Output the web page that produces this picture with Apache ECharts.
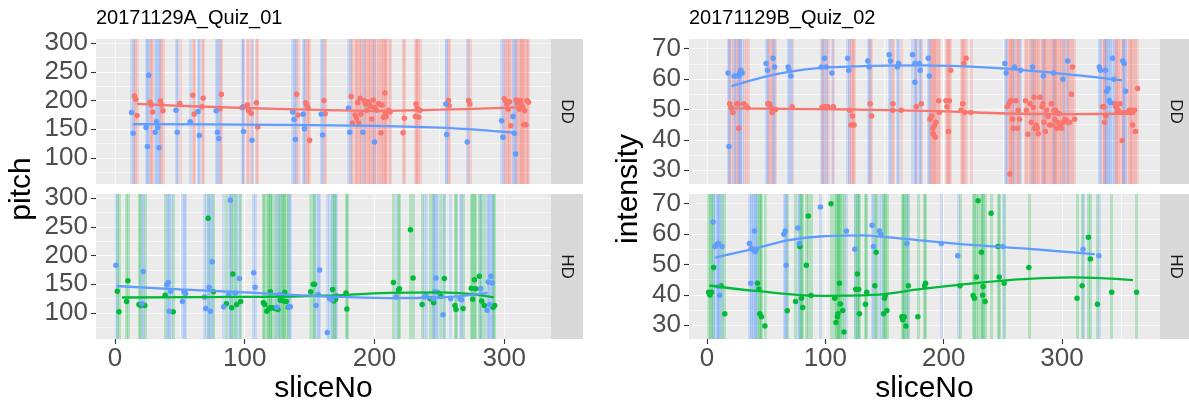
<!DOCTYPE html>
<html>
<head>
<meta charset="utf-8">
<script src="https://cdn.jsdelivr.net/npm/echarts@6/dist/echarts.min.js"></script>
<style>
html,body{margin:0;padding:0;background:#fff;}
#chart{width:1189px;height:407px;}
</style>
</head>
<body>
<div id="chart"></div>
<script>
// ---------- tick labels ----------
const pitchTicks = [100, 150, 200, 250, 300];
const intensityTicks = [30, 40, 50, 60, 70];
const sliceTicks = [0, 100, 200, 300];

// ---------- Quiz 01 (pitch), facet DD ----------
const q1DD_red_slice = [15,16,17,27,28,29,35,36,37,50,60,61,68,67,82,81,99,102,103,105,109,110,140,141,147,148,149,150,161,162,182,183,185,186,187,188,189,189.5,192,193,194,195,196,197,198,199,200,201.5,203,204,205,206,207,208,208.5,209,211,212,222,223,231.5,232,233,234,235,257,257.5,272.5,273.5,300,301,302,303,304,305,309,310,311.5,312.5,313,314,315,315.6,316.7,317.4,318.7];
const q1DD_red_pitch = [208,202,174,197,192,180,199,192,182,195,209,176,204,189,211,186,189,192,182,178,196,154,211,175,196,191,186,131,200,177,207,161,175,169,196,161,204,176,200,194,183,198,192,190,168,201,188,183,195,193,144,192,171,213,178,172,183,180,144,169,172,194,186,171,183,200,191,200,194,203,199,194,185,198,156,201,195,185,200,194,189,158,182,158,200,197];
const q1DD_blue_slice = [12.8,14,24,25,26,31,32,33,34,47,48,58,64,65,78,79,80,98,99,105.6,137,138,139,145,146,159,160,180,181,191,200,255,255.6,271.5,298,299,306.7,307.7,308.7];
const q1DD_blue_pitch = [179,143,153,120,244,145,163,153,118,183,145,163,181,139,182,145,134,188,146,131,180,167,132,176,151,176,140,187,145,145,128,194,141,128,165,136,172,143,107];
const q1DD_red_smooth_slice = [17,60,100,150,200,250,311];
const q1DD_red_smooth_pitch = [194,190,187,184,182,184,188];
const q1DD_blue_smooth_slice = [14,100,200,250,280,308];
const q1DD_blue_smooth_pitch = [159,158,156,153,149,144];

// ---------- Quiz 01 (pitch), facet HD ----------
const q1HD_green_slice = [1.8,3.1,9,10,18.5,19.7,23,38.7,44.9,71.8,75.9,85.9,90,90.8,93.8,96.9,114.4,115.4,117,118.5,119.7,121.5,123.3,125.6,119.7,127.4,128.7,130,130.8,132,133.6,150.8,152.8,153.8,167.7,168.7,170,178,178.7,214.6,218.5,219.2,227.7,229.7,236.7,242.8,245.6,251,253.8,262,262.8,268.2,274.6,275.6,277,278,280.8,282.6,284.6,291.3,292.6];
const q1HD_green_pitch = [138,102,120,156,115,113,113,131,102,265,137,116,109,168,115,120,118,115,103,107,109,109,108,106,137,122,131,121,136,120,110,137,150,150,141,121,124,135,107,153,140,142,245,161,115,125,118,129,160,113,106,108,143,124,158,142,164,121,113,110,113];
const q1HD_blue_slice = [0.8,21.8,20.8,40,41,43,41.8,52,53.3,54.4,69,70,72.6,73.6,74.9,83.8,87.7,89,92.8,95.9,106.9,108,124.6,126.7,134.1,135.1,154.9,156.7,157.7,163.6,165.4,167.2,170.8,216.7,238.5,239.7,245.4,246.4,247.4,248.7,252.8,258.7,265.9,267.2,281.8,286.7,287.7,288.7,289.7,290.8];
const q1HD_blue_pitch = [183,172,116,149,153,138,103,120,137,134,128,108,145,103,189,111,132,296,135,160,170,145,110,132,111,111,113,132,175,66,125,123,130,128,128,131,125,137,161,136,97,125,125,123,142,105,154,115,164,152];
const q1HD_green_smooth_slice = [5.4,100,160,211,250,275,292];
const q1HD_green_smooth_pitch = [127,128,130,135,136,133,127];
const q1HD_blue_smooth_slice = [1.3,50,100,160,211,250,287];
const q1HD_blue_smooth_pitch = [147,141,136,129,126,127,135];

// ---------- Quiz 02 (intensity), facet DD ----------
const q2DD_red_slice = [19.2,20.3,21.8,25.1,26.3,26.8,31.1,33,34.5,51.4,52.8,54,55.1,57.9,72,97.2,98.6,100.6,102.3,106.8,120.6,122.9,121.5,123.2,124.3,137.9,139,157.1,156.8,164.1,176.8,181.1,188.4,189.8,190.7,192.1,193.5,191,192.9,195.8,196.3,202,204.8,202.8,204,205.9,216.1,214.7,217.8,216.9,218.9,222.9,253.7,255.1,256.2,257.6,258.2,261,258.8,262.4,263,264.1,255.9,269.2,269.8,271.2,272.9,274,275.7,276.3,276.8,278.2,279.1,279.9,281.6,283.1,283.9,284.7,285.9,287,288.1,289.5,291,291.8,293.2,293.8,294.6,295.5,296.3,297.5,298.6,299.7,301.1,302.3,303.7,305.1,306.5,307.9,308.8,310.7,334.2,335.6,335.9,337,344.6,345.5,346.6,347.5,348.9,350.8,351.7,355.1,356.8,357.9,358.8,359.6,361.3,362.1,363.8];
const q2DD_red_intensity = [51.9,50.7,49.0,51.9,51.9,43.8,51.9,51.2,50.6,51.9,51.9,50.7,49.0,50.0,50.9,50.7,50.9,50.9,50.9,50.9,49.8,47.9,44.9,44.9,44.9,51.9,47.9,51.9,49.8,49.8,50.9,51.9,46.8,47.9,43.8,44.7,45.8,42.0,40.9,52.9,49.0,52.9,52.9,50.9,42.8,62.9,51.9,49.8,49.0,65.1,66.9,49.0,50.9,51.9,52.8,52.9,46.8,52.9,43.8,43.8,49.8,46.8,28.8,52.9,49.8,41.9,51.9,45.8,50.7,54.0,43.8,44.9,43.8,42.0,54.0,50.9,51.9,45.8,42.8,49.8,47.6,44.9,51.9,44.9,49.8,46.8,49.8,43.8,45.8,48.7,44.9,43.8,45.8,46.8,46.3,45.8,45.8,55.0,64.0,46.8,50.9,50.9,45.8,47.9,51.9,50.9,49.8,49.8,51.9,39.8,49.0,49.0,49.8,49.0,49.8,44.9,49.8,42.8,56.9];
const q2DD_blue_slice = [17.8,18.6,22.9,24.3,27.1,27.7,28.5,29.7,50,51.1,55.9,57.1,68.6,69.5,70.9,96.6,99.2,100.8,105.6,118.9,119.8,135.9,137,154,155.1,160.7,161.9,173.7,175.7,175.7,179.4,180.2,187,187.9,251.7,252.8,259.9,265,275.1,284.2,292.9,300.8,304.8,331.6,332.5,336.7,337.6,339,339.8,341,342.7,343.8,351.4,352.5,353.7];
const q2DD_blue_intensity = [62.0,37.8,61.0,61.0,61.0,62.0,62.9,62.0,65.1,62.9,66.9,64.0,64.0,62.9,61.0,64.0,66.9,64.0,62.0,66.9,62.9,66.0,64.0,68.0,66.0,64.0,65.1,68.0,59.0,65.1,65.1,62.9,66.9,61.0,65.1,62.0,64.0,62.9,64.0,61.0,62.0,60.0,66.0,64.0,62.9,62.9,56.0,56.9,53.0,52.2,66.9,60.0,66.0,65.1,56.0];
const q2DD_red_smooth_slice = [18.4,125.7,196,252.8,309,361.6];
const q2DD_red_smooth_intensity = [50.4,50.0,49.5,48.7,48.5,48.7];
const q2DD_blue_smooth_slice = [20.6,69,125.7,182,238.7,295,350.8];
const q2DD_blue_smooth_intensity = [57.7,62.4,64.2,64.5,63.8,62.0,59.6];

// ---------- Quiz 02 (intensity), facet HD ----------
const q2HD_green_slice = [1.4,2.5,3.7,5.6,11.9,15,42.7,43.8,44.6,46,48.9,67.8,74.9,78.5,79.9,80.8,83.9,85.6,87.9,104.8,107.9,109,110.2,110.7,111.9,112.7,114.7,115.8,125.7,127.1,128.2,128.8,133.9,135,141.8,142.9,150,150.6,149.2,152,164.7,165.5,166.7,168.1,170.1,178.2,183.9,184.7,213.8,224.9,226,227.7,229.1,231.9,233.3,233,235,240.1,245.8,246.9,251.1,272,312.7,317,322.3,324,329.9,342,363];
const q2HD_green_intensity = [40.9,40.0,40.9,49.0,43.0,33.8,43.8,41.9,33.8,32.8,29.8,34.8,37.8,55.9,38.9,35.9,49.8,66.0,39.8,70.0,38.9,30.9,32.8,33.8,43.8,37.0,34.9,27.8,41.9,46.9,41.9,33.8,36.9,40.9,43.0,54.0,38.9,39.8,33.8,34.9,32.8,31.8,32.8,29.8,43.0,32.8,43.0,43.8,43.0,39.8,38.9,45.9,71.0,54.0,42.8,39.9,37.8,66.9,55.9,45.9,43.8,49.0,38.9,43.0,59.0,51.8,36.9,40.9,40.9];
const q2HD_blue_slice = [5.1,6.8,8.5,9.9,12.7,9.6,10.7,35.9,37,37.6,39,40.1,40.7,41.8,65,66.1,66.9,76.8,78,95.8,117.8,124.9,139.5,140.7,145.8,146.9,168.9,198,211.9,250,317.8,331.1];
const q2HD_blue_intensity = [64.0,55.9,56.6,56.9,55.9,42.8,39.9,56.9,43.8,55.3,55.0,61.0,54.2,55.0,60.0,61.0,49.8,62.0,56.9,68.9,61.0,55.0,62.9,55.9,61.0,60.0,56.9,56.9,52.9,55.9,55.0,52.9];
const q2HD_green_smooth_slice = [2,41,97.5,140,182,224.6,267,309,360];
const q2HD_green_smooth_intensity = [43.1,41.3,39.7,40.0,42.0,43.8,45.2,45.8,44.9];
const q2HD_blue_smooth_slice = [7,41,69,97.5,132,154,210,267,327.7];
const q2HD_blue_smooth_intensity = [52.3,55.3,58.0,59.3,59.6,58.9,56.9,55.3,53.4];

// ---------- build chart ----------
const RED = '#F8766D', GREEN = '#00BA38', BLUE = '#619CFF';
const FONT = "'Liberation Sans', Arial, Helvetica, sans-serif";
const zip = (a, b) => a.map((v, i) => [v, b[i]]);

const panels = [
  { rect: [96, 39, 455, 145], xr: [-14.6, 336], yr: [54.8, 307], xMaj: 100, xMin: 50, yMaj: 50, yMin: 25,
    yTicks: pitchTicks, bottom: false,
    groups: [
      { c: RED, x: q1DD_red_slice, y: q1DD_red_pitch, sx: q1DD_red_smooth_slice, sy: q1DD_red_smooth_pitch },
      { c: BLUE, x: q1DD_blue_slice, y: q1DD_blue_pitch, sx: q1DD_blue_smooth_slice, sy: q1DD_blue_smooth_pitch }
    ] },
  { rect: [96, 194, 455, 145], xr: [-14.6, 336], yr: [54.8, 307], xMaj: 100, xMin: 50, yMaj: 50, yMin: 25,
    yTicks: pitchTicks, bottom: true,
    groups: [
      { c: GREEN, x: q1HD_green_slice, y: q1HD_green_pitch, sx: q1HD_green_smooth_slice, sy: q1HD_green_smooth_pitch },
      { c: BLUE, x: q1HD_blue_slice, y: q1HD_blue_pitch, sx: q1HD_blue_smooth_slice, sy: q1HD_blue_smooth_pitch }
    ] },
  { rect: [689, 39, 471, 145], xr: [-15.2, 382.8], yr: [25.5, 73.2], xMaj: 100, xMin: 50, yMaj: 10, yMin: 5,
    yTicks: intensityTicks, bottom: false,
    groups: [
      { c: RED, x: q2DD_red_slice, y: q2DD_red_intensity, sx: q2DD_red_smooth_slice, sy: q2DD_red_smooth_intensity },
      { c: BLUE, x: q2DD_blue_slice, y: q2DD_blue_intensity, sx: q2DD_blue_smooth_slice, sy: q2DD_blue_smooth_intensity }
    ] },
  { rect: [689, 194, 471, 145], xr: [-15.2, 382.8], yr: [25.5, 73.2], xMaj: 100, xMin: 50, yMaj: 10, yMin: 5,
    yTicks: intensityTicks, bottom: true,
    groups: [
      { c: GREEN, x: q2HD_green_slice, y: q2HD_green_intensity, sx: q2HD_green_smooth_slice, sy: q2HD_green_smooth_intensity },
      { c: BLUE, x: q2HD_blue_slice, y: q2HD_blue_intensity, sx: q2HD_blue_smooth_slice, sy: q2HD_blue_smooth_intensity }
    ] }
];

const grid = [], xAxis = [], yAxis = [], series = [];
panels.forEach((p, g) => {
  grid.push({ left: p.rect[0], top: p.rect[1], width: p.rect[2], height: p.rect[3],
    show: true, backgroundColor: '#EBEBEB', borderWidth: 0 });
});
// minor axes first (drawn below), then major axes
panels.forEach((p, g) => {
  xAxis.push({ type: 'value', gridIndex: g, position: 'bottom', offset: 0, min: p.xr[0], max: p.xr[1], minInterval: p.xMin, maxInterval: p.xMin,
    axisLine: { show: false, onZero: false }, axisTick: { show: false }, axisLabel: { show: false },
    splitLine: { show: true, showMinLine: false, showMaxLine: false, lineStyle: { color: '#FFFFFF', width: 0.6 } }, z: 0 });
  yAxis.push({ type: 'value', gridIndex: g, position: 'left', offset: 0, min: p.yr[0], max: p.yr[1], minInterval: p.yMin, maxInterval: p.yMin,
    axisLine: { show: false, onZero: false }, axisTick: { show: false }, axisLabel: { show: false },
    splitLine: { show: true, showMinLine: false, showMaxLine: false, lineStyle: { color: '#FFFFFF', width: 0.6 } }, z: 0 });
});
panels.forEach((p, g) => {
  xAxis.push({ type: 'value', gridIndex: g, position: 'bottom', offset: 0, min: p.xr[0], max: p.xr[1], minInterval: p.xMaj, maxInterval: p.xMaj,
    axisLine: { show: false, onZero: false },
    axisTick: { show: p.bottom, length: 5, lineStyle: { color: '#333333', width: 1.1 }, customValues: sliceTicks },
    axisLabel: { show: p.bottom, fontSize: 26, color: '#4D4D4D', fontFamily: FONT, margin: 7, customValues: sliceTicks },
    splitLine: { show: true, showMinLine: false, showMaxLine: false, lineStyle: { color: '#FFFFFF', width: 1.2 } }, z: 1 });
  yAxis.push({ type: 'value', gridIndex: g, position: 'left', offset: 0, min: p.yr[0], max: p.yr[1], minInterval: p.yMaj, maxInterval: p.yMaj,
    axisLine: { show: false, onZero: false },
    axisTick: { show: true, length: 5, lineStyle: { color: '#333333', width: 1.1 }, customValues: p.yTicks },
    axisLabel: { show: true, fontSize: 26, color: '#4D4D4D', fontFamily: FONT, margin: 8, customValues: p.yTicks },
    splitLine: { show: true, showMinLine: false, showMaxLine: false, lineStyle: { color: '#FFFFFF', width: 1.2 } }, z: 1 });
});

panels.forEach((p, g) => {
  const xi = 4 + g, yi = 4 + g;
  // vertical reference lines at each observation
  p.groups.forEach((gr) => {
    series.push({ type: 'line', xAxisIndex: xi, yAxisIndex: yi, data: [], silent: true, z: 2,
      markLine: { silent: true, z: 2, symbol: ['none', 'none'], label: { show: false },
        emphasis: { disabled: true },
        lineStyle: { type: 'solid', color: gr.c, width: 3, opacity: 0.24 },
        data: gr.x.map(v => ({ xAxis: v })) } });
  });
  p.groups.forEach((gr) => {
    series.push({ type: 'scatter', xAxisIndex: xi, yAxisIndex: yi, data: zip(gr.x, gr.y),
      symbol: 'circle', symbolSize: 5.5, itemStyle: { color: gr.c, opacity: 1 }, z: 6, silent: true });
  });
  p.groups.forEach((gr) => {
    series.push({ type: 'line', xAxisIndex: xi, yAxisIndex: yi, data: zip(gr.sx, gr.sy),
      smooth: 0.4, showSymbol: false, lineStyle: { color: gr.c, width: 2.3 }, z: 7, silent: true });
  });
});

const txt = (text, x, y, size, color, rot, align) => ({
  type: 'text', x: x, y: y, rotation: rot || 0, z: 10,
  style: { text: text, x: 0, y: 0, fontSize: size, fontFamily: FONT, fill: color,
    align: align || 'center', verticalAlign: 'middle' } });

const graphic = [
  { type: 'rect', shape: { x: 551, y: 39, width: 32, height: 145 }, style: { fill: '#D9D9D9' } },
  { type: 'rect', shape: { x: 551, y: 194, width: 32, height: 145 }, style: { fill: '#D9D9D9' } },
  { type: 'rect', shape: { x: 1160, y: 39, width: 32, height: 145 }, style: { fill: '#D9D9D9' } },
  { type: 'rect', shape: { x: 1160, y: 194, width: 32, height: 145 }, style: { fill: '#D9D9D9' } },
  txt('DD', 567, 111.5, 17, '#1A1A1A', -Math.PI / 2),
  txt('HD', 567, 266.5, 17, '#1A1A1A', -Math.PI / 2),
  txt('DD', 1176, 111.5, 17, '#1A1A1A', -Math.PI / 2),
  txt('HD', 1176, 266.5, 17, '#1A1A1A', -Math.PI / 2),
  txt('20171129A_Quiz_01', 96, 18, 20, '#000000', 0, 'left'),
  txt('20171129B_Quiz_02', 689, 18, 20, '#000000', 0, 'left'),
  txt('pitch', 22, 189, 30, '#000000', Math.PI / 2),
  txt('intensity', 629, 189, 30, '#000000', Math.PI / 2),
  txt('sliceNo', 323.5, 389, 30, '#000000', 0),
  txt('sliceNo', 924.5, 389, 30, '#000000', 0)
];

const chart = echarts.init(document.getElementById('chart'), null, { renderer: 'canvas' });
chart.setOption({
  animation: false,
  backgroundColor: '#FFFFFF',
  grid: grid, xAxis: xAxis, yAxis: yAxis, series: series, graphic: graphic
});
</script>
</body>
</html>
